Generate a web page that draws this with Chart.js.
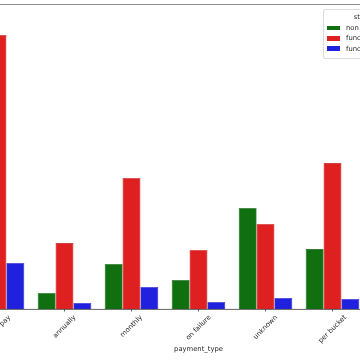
<!DOCTYPE html>
<html><head><meta charset="utf-8">
<script src="https://cdn.jsdelivr.net/npm/chart.js@4.4.1/dist/chart.umd.min.js"></script>
<style>
html,body{margin:0;padding:0;background:#fff;}
#wrap{position:relative;width:360px;height:360px;overflow:hidden;background:#fff;}
#cbox{position:absolute;left:-36px;top:0;width:469px;height:360px;}
#legend{position:absolute;left:323px;top:9px;border:1px solid #dcdcdc;border-radius:2px;background:rgba(255,255,255,0.85);
 font-family:"DejaVu Sans",sans-serif;font-size:6.8px;color:#262626;padding:3px 5px 4px 3px;white-space:nowrap;}
#legend .t{text-align:center;line-height:9px;margin-bottom:1px;}
#legend .r{display:flex;align-items:center;height:10.3px;}
#legend .p{width:13px;height:4.5px;margin-right:6px;}
</style></head>
<body>
<div id="wrap">
 <div id="cbox"><canvas id="c"></canvas></div>
 <div id="legend">
  <div class="t">status_group</div>
  <div class="r"><span class="p" style="background:#107010"></span>non functional</div>
  <div class="r"><span class="p" style="background:#df2020"></span>functional</div>
  <div class="r"><span class="p" style="background:#2020df"></span>functional needs repair</div>
 </div>
</div>
<script>
const categories = ["never pay","annually","monthly","on failure","unknown","per bucket","other"];
const seriesNames = ["non functional","functional","functional needs repair"];
const nonFunctional = [12025, 664, 1870, 1204, 4194, 2490, 400];
const functional = [11379, 2740, 5440, 2450, 3530, 6060, 580];
const needsRepair = [1910, 250, 914, 290, 457, 415, 75];
const xTitle = "payment_type";

const fills = ["#107010","#df2020","#2020df"];
const edges = ["#0c5a0c","#b81a1a","#1a1ab8"];
const allSeries = [nonFunctional, functional, needsRepair];

const axisPlugin = {
  id:'mplAxes',
  afterDraw(chart){
    const {ctx, chartArea:a, scales:{x}} = chart;
    ctx.save();
    // top spine
    ctx.strokeStyle = '#8c8c8c'; ctx.lineWidth = 1;
    ctx.beginPath(); ctx.moveTo(a.left, 4.5); ctx.lineTo(a.right, 4.5); ctx.stroke();
    // bottom spine
    ctx.strokeStyle = '#3a3a3a'; ctx.lineWidth = 0.8;
    ctx.beginPath(); ctx.moveTo(a.left, a.bottom+0.4); ctx.lineTo(a.right, a.bottom+0.4); ctx.stroke();
    ctx.font = '6.8px "DejaVu Sans", sans-serif';
    ctx.fillStyle = '#262626';
    const h = 6.8;
    categories.forEach((c,i)=>{
      const px = x.getPixelForValue(i);
      ctx.strokeStyle = '#3a3a3a'; ctx.lineWidth = 0.8;
      ctx.beginPath(); ctx.moveTo(px, a.bottom); ctx.lineTo(px, a.bottom+2.5); ctx.stroke();
      const w = ctx.measureText(c).width;
      const bb = (w + h) / Math.SQRT2;
      const cy = a.bottom + 5 + bb/2;
      ctx.save();
      ctx.translate(px, cy);
      ctx.rotate(-Math.PI/4);
      ctx.textAlign = 'center'; ctx.textBaseline = 'middle';
      ctx.fillText(c, 0, 0);
      ctx.restore();
    });
    ctx.textAlign = 'center'; ctx.textBaseline = 'middle';
    ctx.fillText(xTitle, (a.left+a.right)/2, 349);
    ctx.restore();
  }
};

new Chart(document.getElementById('c'), {
  type:'bar',
  data:{
    labels: categories,
    datasets: seriesNames.map((n,k)=>({
      label:n, data: allSeries[k],
      backgroundColor: fills[k], borderColor: edges[k], borderWidth: 0.6,
      categoryPercentage: 0.8, barPercentage: 1.0
    }))
  },
  options:{
    responsive:true, maintainAspectRatio:false, animation:false,
    devicePixelRatio:1,
    layout:{padding:{top:5,bottom:51,left:0,right:0}},
    plugins:{legend:{display:false}, tooltip:{enabled:false}},
    scales:{
      x:{display:false, offset:true},
      y:{display:false, min:0, max:12626}
    }
  },
  plugins:[axisPlugin]
});
</script>
</body></html>
